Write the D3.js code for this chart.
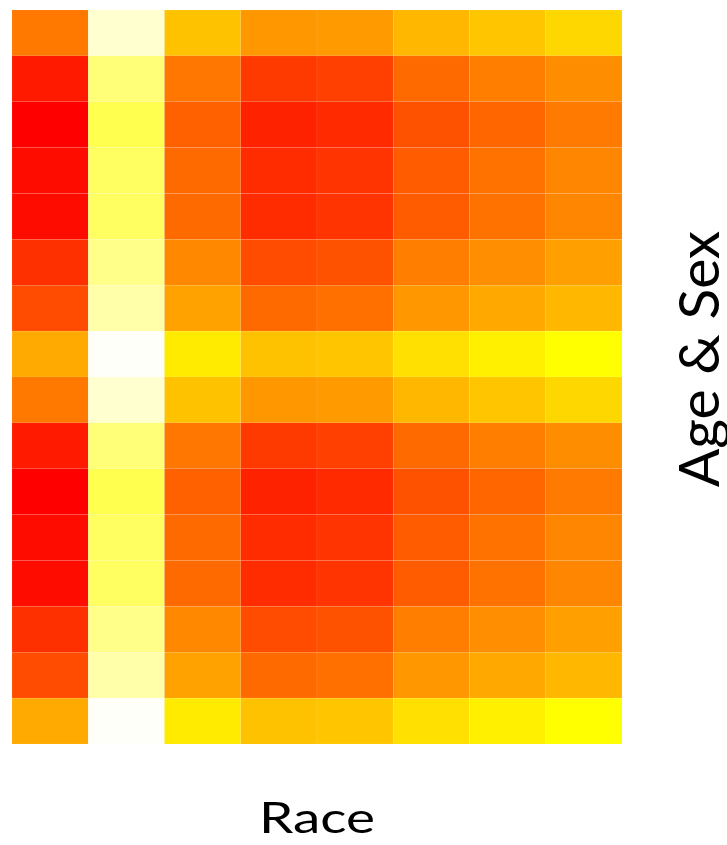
<!DOCTYPE html>
<html>
<head>
<meta charset="utf-8">
<script src="https://cdn.jsdelivr.net/npm/d3@7"></script>
<style>
  body { margin: 0; background: #fff; }
  text { font-family: Lato, "Open Sans", sans-serif; fill: #000; }
</style>
</head>
<body>
<svg id="chart" width="727" height="845"></svg>
<script>
// columns (race groups) and rows (age groups, for each sex)
var races = ["R1", "R2", "R3", "R4", "R5", "R6", "R7", "R8"];
var ages = ["A1", "A2", "A3", "A4", "A5", "A6", "A7", "A8"];
var sexes = ["M", "F"];

// values (0 = red, 50 = yellow, 100 = white)
var valuesM = [
  [23.5, 90.8, 38.0, 29.6, 30.2, 35.9, 38.8, 42.2],
  [ 5.1, 73.5, 23.1, 11.4, 12.5, 20.8, 24.7, 27.6],
  [ 0.0, 65.7, 18.8,  6.7,  8.2, 16.1, 20.0, 23.9],
  [ 2.4, 69.2, 20.8,  8.6, 10.2, 18.0, 22.4, 26.3],
  [ 2.4, 69.2, 20.8,  8.6, 10.2, 18.0, 22.4, 26.3],
  [ 9.4, 77.1, 26.7, 14.9, 16.1, 24.7, 27.8, 31.4],
  [14.9, 83.3, 31.8, 20.8, 22.0, 29.8, 32.9, 35.9],
  [33.3, 99.0, 46.1, 38.0, 38.8, 43.9, 47.1, 50.0]
];
var valuesF = [
  [23.5, 90.8, 38.0, 29.6, 30.2, 35.9, 38.8, 42.2],
  [ 5.1, 73.5, 23.1, 11.4, 12.5, 20.8, 24.7, 27.6],
  [ 0.0, 65.7, 18.8,  6.7,  8.2, 16.1, 20.0, 23.9],
  [ 2.4, 69.2, 20.8,  8.6, 10.2, 18.0, 22.4, 26.3],
  [ 2.4, 69.2, 20.8,  8.6, 10.2, 18.0, 22.4, 26.3],
  [ 9.4, 77.1, 26.7, 14.9, 16.1, 24.7, 27.8, 31.4],
  [14.9, 83.3, 31.8, 20.8, 22.0, 29.8, 32.9, 35.9],
  [33.3, 99.0, 46.1, 38.0, 38.8, 43.9, 47.1, 50.0]
];

var margin = {top: 10, left: 12},
    width = 610,
    height = 734;

var rows = [];
sexes.forEach(function(s) {
  ages.forEach(function(a) { rows.push(s + "-" + a); });
});

var cells = [];
[valuesM, valuesF].forEach(function(block, si) {
  block.forEach(function(r, ai) {
    r.forEach(function(v, ci) {
      cells.push({row: sexes[si] + "-" + ages[ai], col: races[ci], value: v});
    });
  });
});

// set the ranges
var x = d3.scaleBand().domain(races).range([0, width]);
var y = d3.scaleBand().domain(rows).range([0, height]);
var color = d3.scaleLinear()
  .domain([0, 50, 100])
  .range(["#ff0000", "#ffff00", "#ffffff"]);

var svg = d3.select("#chart");
var g = svg.append("g")
  .attr("transform", "translate(" + margin.left + "," + margin.top + ")");

g.selectAll(".cell")
    .data(cells)
  .enter().append("rect")
    .attr("class", "cell")
    .attr("x", function(d) { return x(d.col); })
    .attr("y", function(d) { return y(d.row); })
    .attr("width", x.bandwidth())
    .attr("height", y.bandwidth())
    .attr("fill", function(d) { return color(d.value); })
    .attr("stroke", "#ffffff")
    .attr("stroke-opacity", 0.12)
    .attr("stroke-width", 0.6);

// axis titles
svg.append("text")
    .attr("x", margin.left + width / 2)
    .attr("y", 833)
    .attr("text-anchor", "middle")
    .attr("font-size", 43)
    .attr("textLength", 116)
    .attr("lengthAdjust", "spacingAndGlyphs")
    .text("Race");

svg.append("text")
    .attr("transform", "translate(719,359) rotate(-90)")
    .attr("text-anchor", "middle")
    .attr("font-size", 57)
    .text("Age & Sex");
</script>
</body>
</html>
